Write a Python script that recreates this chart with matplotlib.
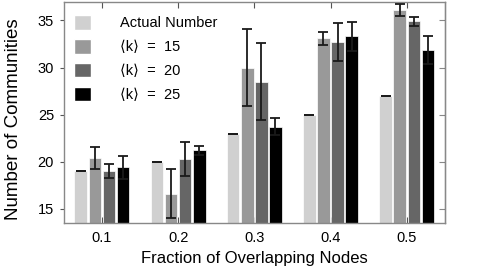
import matplotlib
matplotlib.use("Agg")
import matplotlib.pyplot as plt
import numpy as np
from matplotlib.patches import Patch

plt.rcParams['font.family'] = ['Liberation Sans', 'DejaVu Sans']

fractions = [0.1, 0.2, 0.3, 0.4, 0.5]
tick_labels = ["0.1", "0.2", "0.3", "0.4", "0.5"]
series_names = ["Actual Number", "\u27e8k\u27e9  =  15", "\u27e8k\u27e9  =  20", "\u27e8k\u27e9  =  25"]
actual = [19.0, 20.0, 23.0, 25.0, 27.0]
k15 = [20.4, 16.6, 30.0, 33.1, 36.1]
k20 = [19.0, 20.25, 28.5, 32.7, 34.9]
k25 = [19.4, 21.2, 23.7, 33.3, 31.9]
err_actual = [0.0, 0.0, 0.0, 0.0, 0.0]
err15 = [1.2, 2.6, 4.1, 0.7, 0.65]
err20 = [0.75, 1.8, 4.1, 2.0, 0.45]
err25 = [1.2, 0.5, 0.9, 1.5, 1.5]

colors = ["#d0d0d0", "#999999", "#666666", "#000000"]

fig = plt.figure(figsize=(4.91, 2.73), dpi=100)
ax = fig.add_axes([0.130, 0.183, 0.776, 0.811])

values = [actual, k15, k20, k25]
errs = [err_actual, err15, err20, err25]
x = np.array(fractions)
width = 0.0165
pitch = 0.0185
for i, (v, e, c) in enumerate(zip(values, errs, colors)):
    pos = x + (i - 1.5) * pitch
    ax.bar(pos, v, width=width, color=c, edgecolor='white', linewidth=0.5, zorder=2)
    ax.errorbar(pos, v, yerr=e, fmt='none', ecolor='#1a1a1a', elinewidth=1.3,
                capsize=3.5, capthick=1.3, zorder=3)

ax.set_xlim(0.05, 0.55)
ax.set_ylim(13.5, 37.0)
ax.set_xticks(fractions)
ax.set_xticklabels(tick_labels)
ax.set_yticks([15, 20, 25, 30, 35])
ax.tick_params(axis='both', labelsize=10.5, colors='#555555', labelcolor='black')
ax.tick_params(axis='x', direction='in', top=True, length=4, pad=6)
ax.tick_params(axis='y', direction='out', length=3, pad=4)
for s in ax.spines.values():
    s.set_color('#888888')
    s.set_linewidth(1.0)

sec = ax.secondary_yaxis('right')
sec.set_yticks([15, 20, 25, 30, 35])
sec.tick_params(direction='in', length=4, labelright=False, colors='#888888')

ax.set_xlabel("Fraction of Overlapping Nodes", fontsize=12, labelpad=4)
ax.set_ylabel("Number of Communities", fontsize=13.5)
ax.yaxis.set_label_coords(-0.11, 0.47)

handles = [Patch(facecolor=c, edgecolor='white') for c in colors]
ax.legend(handles, series_names, loc='upper left', frameon=False, fontsize=10.5,
          handlelength=1.15, handleheight=1.15, handletextpad=2.0,
          labelspacing=0.6, borderaxespad=0.3, bbox_to_anchor=(0.0, 0.985))

fig.savefig("out.png", dpi=100)
